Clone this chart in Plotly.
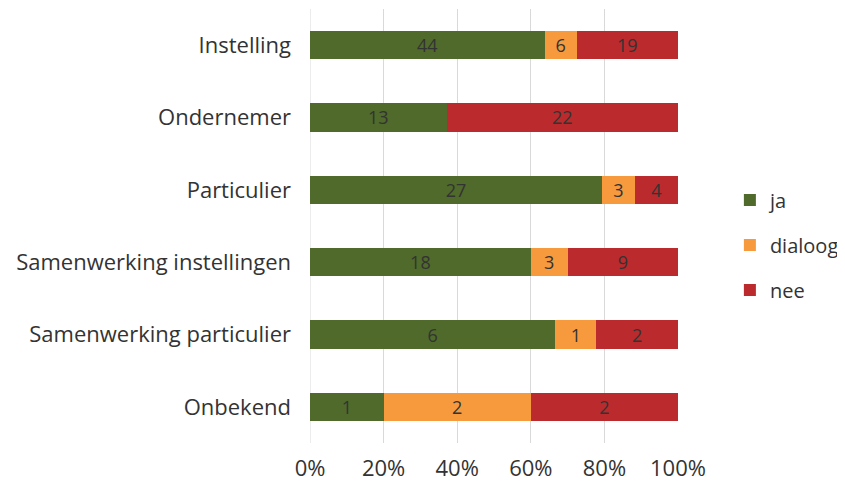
import plotly.graph_objects as go

categories = ["Instelling", "Ondernemer", "Particulier", "Samenwerking instellingen",
              "Samenwerking particulier", "Onbekend"]
ja = [44, 13, 27, 18, 6, 1]
dialoog = [6, 0, 3, 3, 1, 2]
nee = [19, 22, 4, 9, 2, 2]
series_names = ["ja", "dialoog", "nee"]
colors = ["#4f6a2a", "#f79a3e", "#bb2a2c"]
x_ticks = [0, 20, 40, 60, 80, 100]
x_tick_labels = ["0%", "20%", "40%", "60%", "80%", "100%"]

fig = go.Figure()
for i, (name, vals) in enumerate(zip(series_names, [ja, dialoog, nee])):
    fig.add_trace(go.Bar(
        y=categories, x=vals, name=name, orientation="h",
        marker=dict(color=colors[i], line=dict(width=0)),
        text=[str(v) if v else "" for v in vals],
        textposition="inside", insidetextanchor="middle", textangle=0,
        constraintext="none",
        textfont=dict(color="#333333", size=18, family="Open Sans"),
        legendgroup=name,
    ))

fig.update_layout(
    barmode="stack", barnorm="percent", bargap=0.61,
    width=837, height=481,
    margin=dict(l=302, r=167, t=1, b=46),
    plot_bgcolor="white", paper_bgcolor="white",
    font=dict(family="Open Sans", size=22, color="#333333"),
    legend=dict(x=1.141, y=0.456, yanchor="middle", xanchor="left",
                traceorder="grouped", tracegroupgap=16,
                itemwidth=30,
                font=dict(size=20, color="#333333")),
    xaxis=dict(range=[0, 100], tickvals=x_ticks, ticktext=x_tick_labels,
               showgrid=True, gridcolor="#d9d9d9", gridwidth=1,
               zeroline=False, showline=False, ticks="", ticklabelstandoff=10,
               automargin=False, tickfont=dict(size=22)),
    yaxis=dict(autorange="reversed", showgrid=False, ticks="",
               showline=False, ticklabelstandoff=18, automargin=False,
               tickfont=dict(size=22)),
)
fig.add_shape(type="line", xref="x", yref="paper", x0=0, x1=0, y0=0, y1=1,
              line=dict(color="#d9d9d9", width=1), layer="below")

fig.write_html("out.html")
